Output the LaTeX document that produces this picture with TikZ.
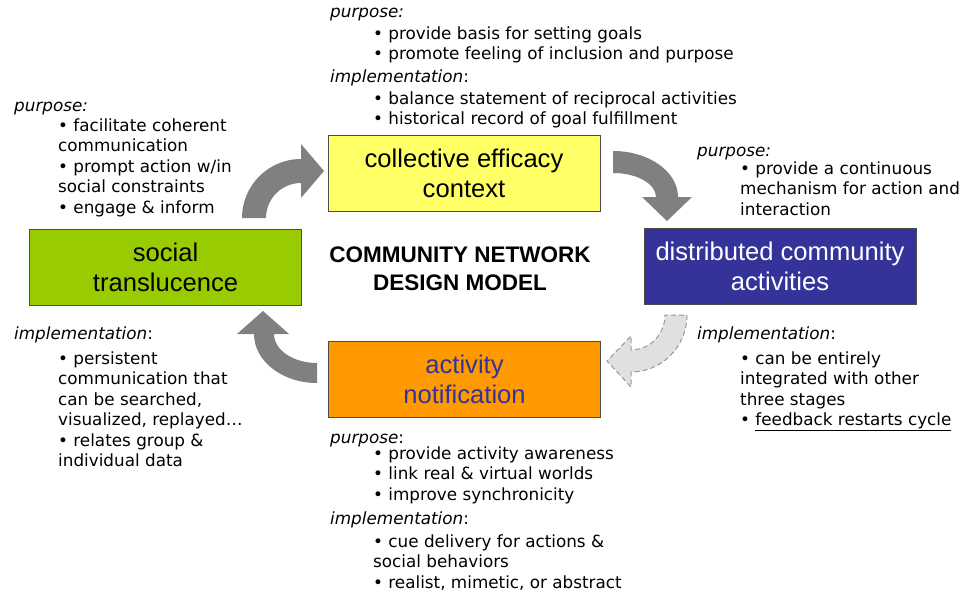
\documentclass[tikz,border=0pt]{standalone}
\usepackage{fontspec}
\setmainfont{DejaVu Sans}
\newfontfamily\boxfont{Liberation Sans}

\definecolor{effyellow}{HTML}{FFFF66}
\definecolor{transgreen}{HTML}{99CC00}
\definecolor{distblue}{HTML}{333399}
\definecolor{notiforange}{HTML}{FF9900}
\definecolor{arrowgray}{HTML}{808080}
\definecolor{dashgray}{HTML}{E0E0E0}

\tikzset{
  stage/.style={draw=black!70, line width=0.8pt, minimum width=272pt, minimum height=76pt,
    inner sep=0pt, align=center, font=\boxfont\fontsize{25.6}{30}\selectfont},
  hdr/.style={anchor=base west, inner sep=0pt, font=\fontsize{16.8}{20.5}\selectfont},
  items/.style={anchor=north west, yshift=11.9pt, inner sep=0pt, align=left,
    execute at begin node=\strut, font=\fontsize{16.8}{20.5}\selectfont},
  cyclearrow/.style={fill=arrowgray},
  restartarrow/.style={fill=dashgray, draw=black!40, line width=1pt, dash pattern=on 5pt off 3pt}
}

\begin{document}
\begin{tikzpicture}[x=1pt, y=-1pt]
  \useasboundingbox (0,0) rectangle (964,594);

  % the four stages
  \node[stage, fill=effyellow] (eff) at (464,173.5) {collective efficacy\\context};
  \node[stage, fill=transgreen] (trans) at (165.5,267.5) {social\\translucence};
  \node[stage, fill=distblue, text=white] (dist) at (780,266) {distributed community\\activities};
  \node[stage, fill=notiforange, text=distblue] (notif) at (464.5,379) {activity\\notification};

  \node[align=center, inner sep=0pt, font=\boxfont\bfseries\fontsize{22.5}{28}\selectfont] (title) at (460,269) {COMMUNITY NETWORK\\DESIGN MODEL};

  % cycle arrows
  \fill[cyclearrow] (242,218) arc[start angle=180, end angle=270, radius=59]
    -- (301,144) -- (324,171) -- (301,198) -- (301,183)
    arc[start angle=270, end angle=180, radius=35] -- cycle;
  \fill[cyclearrow] (613,151) arc[start angle=270, end angle=360, x radius=65, y radius=46]
    -- (692,197) -- (667,221) -- (642,197) -- (656,197)
    arc[start angle=360, end angle=270, x radius=43, y radius=24] -- cycle;
  \filldraw[restartarrow] (687,315) arc[start angle=0, end angle=90, x radius=56, y radius=57]
    -- (631,387) -- (607,361) -- (631,336) -- (631,350)
    arc[start angle=90, end angle=0, x radius=34, y radius=35] -- cycle;
  \fill[cyclearrow] (317,383) arc[start angle=90, end angle=180, x radius=63, y radius=49]
    -- (237,334) -- (263,311) -- (289,334) -- (274,334)
    arc[start angle=180, end angle=90, x radius=43, y radius=29] -- cycle;

  % notes, collective efficacy
  \node[hdr] (effpurp) at (330,18) {\textit{purpose:}};
  \node[items] (effpurpitems) at (373,38) {• provide basis for setting goals\\• promote feeling of inclusion and purpose};
  \node[hdr] (effimpl) at (330,82) {\textit{implementation}:};
  \node[items] (effimplitems) at (373,103) {• balance statement of reciprocal activities\\• historical record of goal fulfillment};

  % notes, social translucence
  \node[hdr] (transpurp) at (14,111) {\textit{purpose:}};
  \node[items] (transpurpitems) at (58,130) {• facilitate coherent\\communication\\• prompt action w/in\\social constraints\\• engage \& inform};
  \node[hdr] (transimpl) at (14,339) {\textit{implementation}:};
  \node[items] (transimplitems) at (58,363) {• persistent\\communication that\\can be searched,\\visualized, replayed…\\• relates group \&\\individual data};

  % notes, distributed community activities
  \node[hdr] (distpurp) at (697,156) {\textit{purpose:}};
  \node[items] (distpurpitems) at (740,173) {• provide a continuous\\mechanism for action and\\interaction};
  \node[hdr] (distimpl) at (697,339) {\textit{implementation}:};
  \node[items] (distimplitems) at (740,363) {• can be entirely\\integrated with other\\three stages\\• \underline{feedback restarts cycle}};

  % notes, activity notification
  \node[hdr] (notifpurp) at (330,443) {\textit{purpose}:};
  \node[items] (notifpurpitems) at (373,458) {• provide activity awareness\\• link real \& virtual worlds\\• improve synchronicity};
  \node[hdr] (notifimpl) at (330,524) {\textit{implementation}:};
  \node[items] (notifimplitems) at (373,546) {• cue delivery for actions \&\\social behaviors\\• realist, mimetic, or abstract};
\end{tikzpicture}
\end{document}
